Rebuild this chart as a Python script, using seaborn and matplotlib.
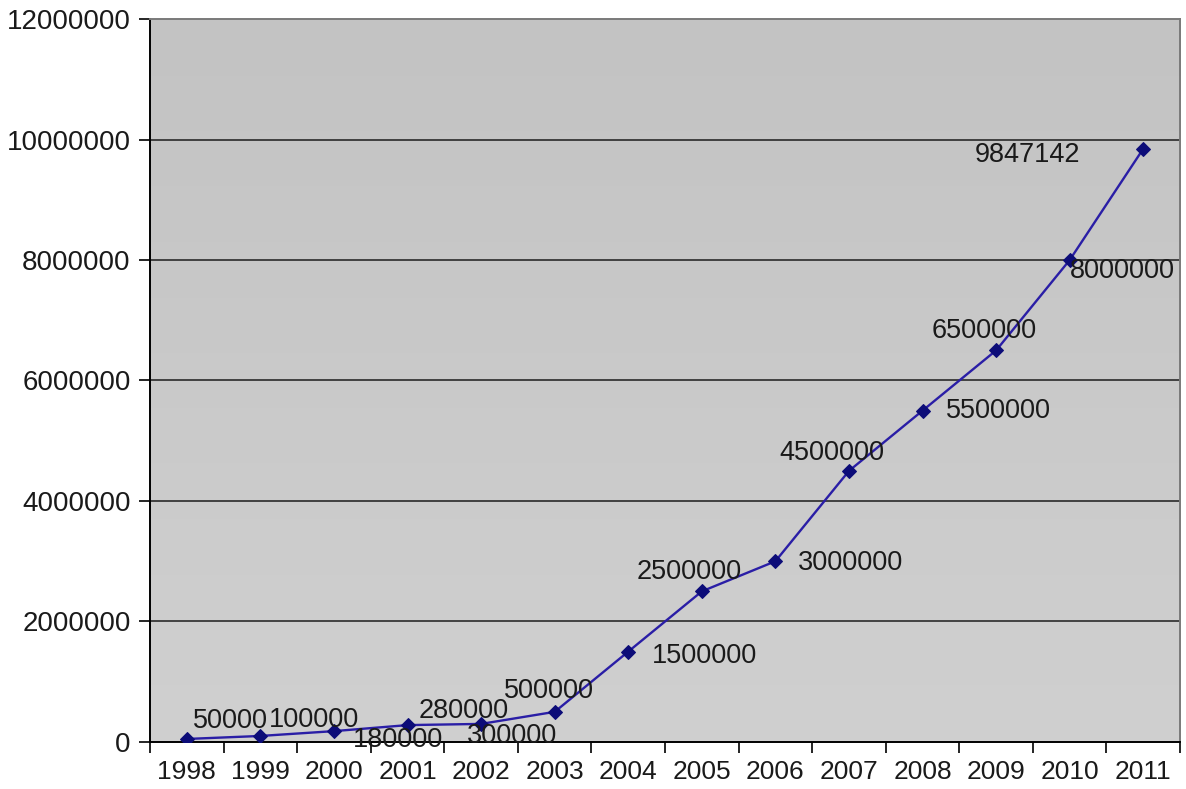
import numpy as np
import pandas as pd
import matplotlib
matplotlib.use("Agg")
import matplotlib.pyplot as plt
import seaborn as sns

# data
years = ["1998", "1999", "2000", "2001", "2002", "2003", "2004",
         "2005", "2006", "2007", "2008", "2009", "2010", "2011"]
values = [50000, 100000, 180000, 280000, 300000, 500000, 1500000,
          2500000, 3000000, 4500000, 5500000, 6500000, 8000000, 9847142]
y_ticks = [0, 2000000, 4000000, 6000000, 8000000, 10000000, 12000000]

# label offsets in pixels (left edge of text, vertical centre)
label_offsets = [(6, 18), (8, 16), (19, -9), (11, 14), (-14, -12), (-51, 21), (24, -4),
                 (-65, 19), (22, -2), (-70, 18), (23, 0), (-65, 19), (0, -11), (-169, -6)]

df = pd.DataFrame({"year": years, "value": values})
df["pos"] = np.arange(len(years))

sns.set_theme(style="white")
plt.rcParams["font.family"] = ["Liberation Sans", "DejaVu Sans"]

fig = plt.figure(figsize=(11.86, 7.89), dpi=100)
ax = fig.add_axes([0.1265, 0.0596, 0.8685, 0.9163])

# grey gradient background
grad = np.linspace(0, 1, 256).reshape(-1, 1)
ax.imshow(grad, extent=[0, 1, 0, 1], transform=ax.transAxes, aspect="auto",
          cmap=matplotlib.colors.LinearSegmentedColormap.from_list("g", ["#d0d0d0", "#c3c3c3"]),
          origin="lower", zorder=0)

for t in y_ticks[1:-1]:
    ax.axhline(t, color="#2a2a2a", lw=1.2, zorder=1)

sns.lineplot(data=df, x="pos", y="value", ax=ax, color="#2a1ea6", lw=1.7,
             marker="D", markersize=7, markerfacecolor="#0c0c78",
             markeredgecolor="#0c0c78", zorder=3)

for (x, v, off) in zip(df["pos"], values, label_offsets):
    ax.annotate(str(v), (x, v), xytext=off, textcoords="offset pixels",
                ha="left", va="center", fontsize=19.5, color="#1a1a1a", zorder=4)

ax.set_xlim(-0.5, len(years) - 0.5)
ax.set_ylim(0, 12000000)
ax.set_xticks(df["pos"])
ax.set_xticklabels(years, fontsize=19, color="#1a1a1a")
ax.set_xticks(np.arange(-0.5, len(years), 1), minor=True)
ax.tick_params(axis="x", which="major", length=0, pad=13)
ax.tick_params(axis="x", which="minor", length=8, width=1.2, color="black", direction="out", bottom=True)
ax.set_yticks(y_ticks)
ax.set_yticklabels([str(t) for t in y_ticks], fontsize=20, color="#1a1a1a")
ax.tick_params(axis="y", length=8, width=1.2, color="black", direction="out", left=True, pad=6)
ax.set_xlabel("")
ax.set_ylabel("")

for s in ["left", "bottom"]:
    ax.spines[s].set_color("black")
    ax.spines[s].set_linewidth(1.4)
for s in ["top", "right"]:
    ax.spines[s].set_color("#7a7a7a")
    ax.spines[s].set_linewidth(1.4)

fig.savefig("out.png", dpi=100, facecolor="white")
